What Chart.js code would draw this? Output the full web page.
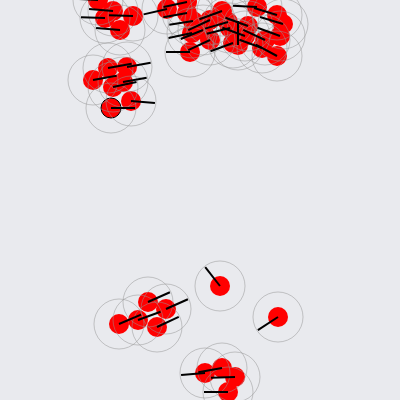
<!DOCTYPE html>
<html>
<head>
<meta charset="utf-8">
<script src="https://cdn.jsdelivr.net/npm/chart.js@4/dist/chart.umd.min.js"></script>
<style>
html,body{margin:0;padding:0;background:#e9eaee;}
#wrap{width:400px;height:400px;position:relative;}
</style>
</head>
<body>
<div id="wrap"><canvas id="c"></canvas></div>
<script>
const xValues = [98,113,133,105,120,
  93,108,127,113,123,131,111,
  167,187,187,193,192,210,222,228,230,190,210,233,203,
  257,277,283,280,265,262,277,248,245,238,
  119,138,148,166,157,
  220,278,
  205,222,235,228];
const yValues = [0,11,16,18,30,
  80,68,67,87,82,101,108,
  9,2,13,21,33,20,11,22,28,52,40,43,30,
  7,15,24,36,40,48,56,26,36,45,
  324,320,302,309,327,
  286,317,
  373,368,377,392];
const directions = [183,185,182,182,185,
  -10,-10,-10,-12,-10,5,0,
  167,168,170,171,168,155,160,164,166,180,155,160,158,
  183,197,197,200,205,200,208,200,200,270,
  -23,-20,-24,-24,-25,
  232,147,
  175,170,178,180];
const highlighted = [11];

const pts = xValues.map((x,i)=>({x:x,y:yValues[i]}));

new Chart(document.getElementById('c'), {
  type: 'scatter',
  data: {
    datasets: [
      {
        data: pts,
        pointStyle: 'dash',
        pointRadius: 24,
        pointRotation: ctx => directions[ctx.dataIndex],
        borderColor: '#000',
        backgroundColor: 'rgba(0,0,0,0)',
        pointBorderWidth: 2,
        order: 0
      },
      {
        data: pts,
        pointStyle: 'circle',
        pointRadius: 25,
        backgroundColor: 'rgba(0,0,0,0)',
        borderColor: 'rgba(150,150,150,0.5)',
        pointBorderWidth: 1,
        order: 1
      },
      {
        data: pts,
        pointStyle: 'circle',
        pointRadius: 10,
        backgroundColor: '#ff0000',
        pointBorderColor: ctx => highlighted.includes(ctx.dataIndex) ? '#000' : 'rgba(0,0,0,0)',
        pointBorderWidth: ctx => highlighted.includes(ctx.dataIndex) ? 1 : 0,
        order: 2
      }
    ]
  },
  options: {
    responsive: true,
    maintainAspectRatio: false,
    animation: false,
    events: [],
    layout: { padding: 0, autoPadding: false },
    plugins: { legend: { display: false }, tooltip: { enabled: false } },
    scales: {
      x: { type: 'linear', min: 0, max: 400, display: false },
      y: { type: 'linear', min: 0, max: 400, reverse: true, display: false }
    }
  }
});
</script>
</body>
</html>
